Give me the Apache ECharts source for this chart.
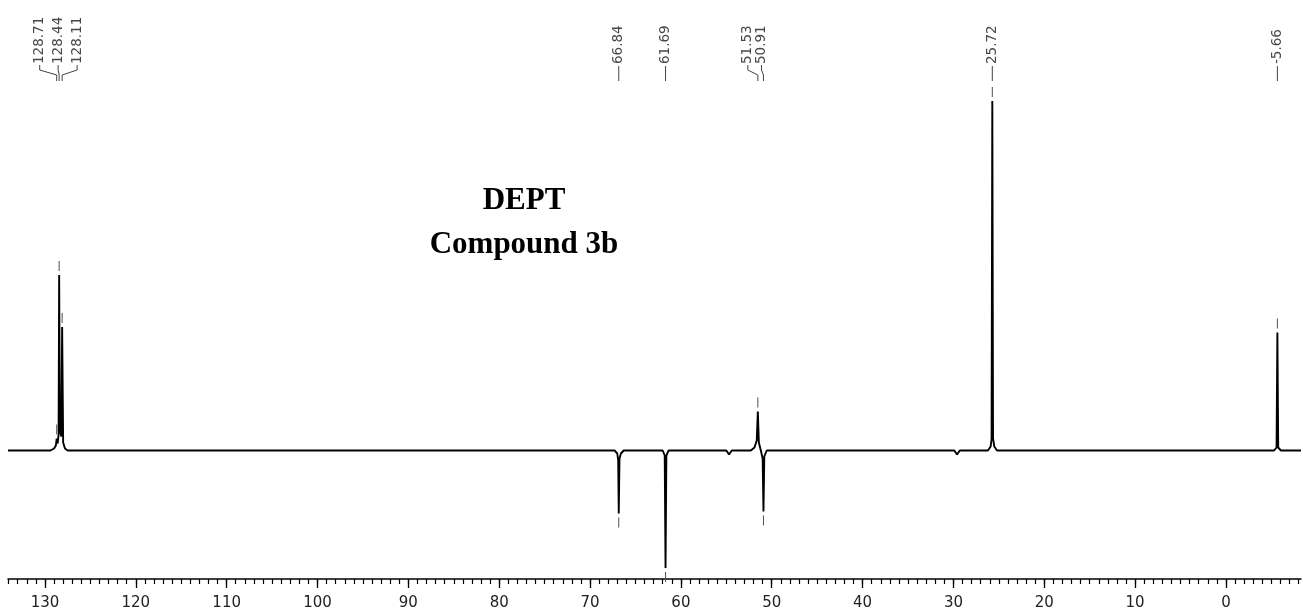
<!DOCTYPE html>
<html>
<head>
<meta charset="utf-8">
<script src="https://cdn.jsdelivr.net/npm/echarts@6/dist/echarts.min.js"></script>
<style>html,body{margin:0;padding:0;background:#fff}#c{width:1303px;height:614px}</style>
</head>
<body>
<div id="c"></div>
<script>
// ---- data ----
const shiftPPM = [128.71, 128.44, 128.11, 66.84, 61.69, 51.53, 50.91, 25.72, -5.66];
const shiftLabels = ['128.71', '128.44', '128.11', '66.84', '61.69', '51.53', '50.91', '25.72', '-5.66'];
const peakHeights = [12, 175.5, 123.5, -63, -117.5, 39, -61, 349.5, 118];
const specPPM = [134.07, 129.4, 129.0, 128.8, 128.71, 128.6, 128.5, 128.44, 128.36, 128.2, 128.11, 128.0, 127.8, 127.5,
  67.3, 67.0, 66.9, 66.84, 66.76, 66.6, 66.3,
  62.0, 61.78, 61.69, 61.6, 61.35,
  55.0, 54.7, 54.4,
  52.3, 51.9, 51.65, 51.53, 51.42, 51.2, 51.0, 50.91, 50.82, 50.55,
  29.9, 29.6, 29.3,
  26.2, 25.9, 25.8, 25.72, 25.64, 25.5, 25.2,
  -5.3, -5.57, -5.66, -5.75, -6.05, -8.26];
const specInt = [0, 0, 2, 5, 12, 7, 16, 175.5, 20, 14, 123.5, 8, 2, 0,
  0, -3, -10, -63, -8, -3, 0,
  0, -5, -117.5, -5, 0,
  0, -4, 0,
  0, 3, 10, 39, 8, 0, -8, -61, -6, 0,
  0, -4, 0,
  0, 4, 12, 349.5, 12, 4, 0,
  0, 3, 118, 3, 0, 0];
const majorTicks = [130, 120, 110, 100, 90, 80, 70, 60, 50, 40, 30, 20, 10, 0];
const titleLines = ['DEPT', 'Compound 3b'];

// ---- layout ----
const X_MIN = -8.26, X_MAX = 134.07;
const minorTicks = [];
for (let v = -8; v <= 134; v++) minorTicks.push(v);
const labelShift = { 0: -17, 1: -1, 2: 15, 5: -10, 6: -2 };

const chart = echarts.init(document.getElementById('c'), null, { renderer: 'canvas' });

const spectrum = specPPM.map((p, i) => [p, specInt[i]]);
const peaks = shiftPPM.map((p, i) => [p, peakHeights[i], i]);

function renderPeak(params, api) {
  const idx = api.value(2);
  const tip = api.coord([api.value(0), api.value(1)]);
  const px = tip[0];
  const dir = api.value(1) > 0 ? -1 : 1;
  const children = [];
  children.push({
    type: 'line',
    shape: { x1: px, y1: tip[1] + dir * 4, x2: px, y2: tip[1] + dir * 14 },
    style: { stroke: '#5a4c4c', lineWidth: 1 }
  });
  const dx = labelShift[idx] || 0;
  const lx = px + dx;
  if (dx !== 0) {
    children.push({
      type: 'polyline',
      shape: { points: [[lx, 65], [lx, 70], [px, 75], [px, 81]] },
      style: { stroke: '#444', lineWidth: 1, fill: null }
    });
  } else {
    children.push({
      type: 'line',
      shape: { x1: px, y1: 66, x2: px, y2: 81 },
      style: { stroke: '#444', lineWidth: 1 }
    });
  }
  children.push({
    type: 'text',
    x: lx, y: 64,
    rotation: Math.PI / 2,
    style: {
      text: shiftLabels[idx],
      x: 0, y: 0,
      align: 'left', verticalAlign: 'middle',
      font: '13.5px "DejaVu Sans"',
      fill: '#484848'
    }
  });
  return { type: 'group', children };
}

chart.setOption({
  animation: false,
  backgroundColor: '#fff',
  title: {
    text: titleLines.join('\n'),
    left: 519, top: 174,
    textAlign: 'center',
    textStyle: {
      fontFamily: '"Liberation Serif", serif', fontWeight: 'bold',
      fontSize: 31, lineHeight: 44, color: '#000', align: 'center'
    }
  },
  grid: { left: 8, right: 2, top: 0, bottom: 35 },
  xAxis: [
    {
      type: 'value', inverse: true, min: X_MIN, max: X_MAX, position: 'bottom',
      splitLine: { show: false },
      axisLine: { show: true, onZero: false, lineStyle: { color: '#000', width: 1.5 } },
      axisTick: { show: true, customValues: majorTicks, length: 9, lineStyle: { color: '#000', width: 1.3 } },
      axisLabel: {
        show: true, customValues: majorTicks, margin: 17,
        fontFamily: '"DejaVu Sans"', fontSize: 15, color: '#222'
      }
    },
    {
      type: 'value', inverse: true, min: X_MIN, max: X_MAX, position: 'bottom', offset: 0,
      splitLine: { show: false },
      axisLine: { show: false, onZero: false },
      axisTick: { show: true, customValues: minorTicks, length: 5, lineStyle: { color: '#000', width: 1.2 } },
      axisLabel: { show: false }
    }
  ],
  yAxis: { type: 'value', min: -128.5, max: 450.5, show: false, splitLine: { show: false } },
  series: [
    {
      type: 'line', xAxisIndex: 0, data: spectrum, showSymbol: false, symbol: 'none',
      lineStyle: { color: '#000', width: 1.9 }, clip: false
    },
    {
      type: 'custom', xAxisIndex: 0, data: peaks, renderItem: renderPeak, clip: false, silent: true
    }
  ]
});
</script>
</body>
</html>
